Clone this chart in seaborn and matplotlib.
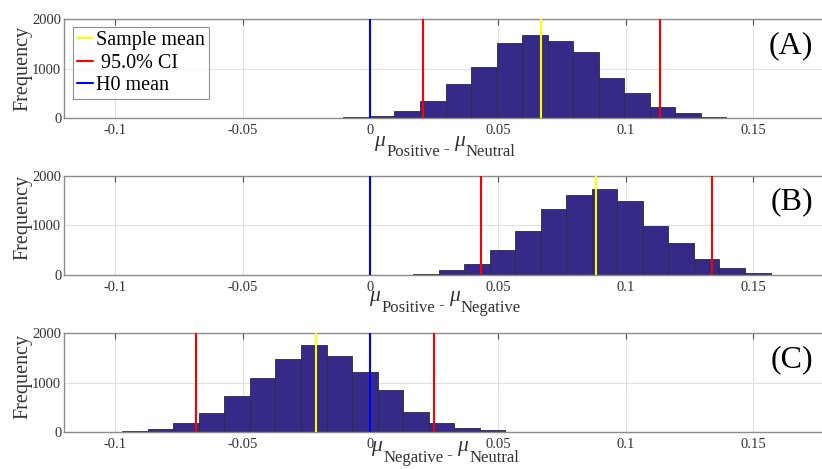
import numpy as np
import pandas as pd
import matplotlib
matplotlib.use("Agg")
import matplotlib.pyplot as plt
from matplotlib.transforms import IdentityTransform
import seaborn as sns

# Bootstrap distributions of differences between condition means
bin_width = 0.01

bin_start_a = -0.0306
counts_a = [3, 6, 18, 47, 140, 351, 682, 1041, 1527, 1682, 1568, 1331, 818,
            500, 230, 95, 27, 7]
mean_a = 0.0668
ci_a = [0.0205, 0.1135]

bin_start_b = -0.0033
counts_b = [3, 10, 33, 107, 221, 508, 896, 1331, 1619, 1726, 1485, 997, 642,
            334, 140, 54, 13, 3]
mean_b = 0.0885
ci_b = [0.0432, 0.1336]

bin_start_c = -0.1072
counts_c = [3, 20, 74, 188, 389, 738, 1087, 1477, 1765, 1544, 1221, 859, 416,
            195, 94, 40, 8, 3]
mean_c = -0.0215
ci_c = [-0.0682, 0.0249]

h0_mean = 0.0

panel_tags = ["(A)", "(B)", "(C)"]
# (minuend, subtrahend) condition names for each panel's x label
label_pairs = [("Positive", "Neutral"), ("Positive", "Negative"),
               ("Negative", "Neutral")]
x_ticks = [-0.1, -0.05, 0, 0.05, 0.1, 0.15]
x_tick_labels = ["-0.1", "-0.05", "0", "0.05", "0.1", "0.15"]
y_ticks = [0, 1000, 2000]
legend_labels = ["Sample mean", " 95.0% CI", "H0 mean"]

sns.set_style("white")
plt.rcParams["font.family"] = ["Liberation Serif", "DejaVu Serif"]

BAR_COLOR = "#352a87"
SPINE = "0.55"
TEXT = "0.2"
W_PX, H_PX = 822, 469

fig = plt.figure(figsize=(W_PX / 100, H_PX / 100), dpi=100)
renderer = fig.canvas.get_renderer()

left, width = 0.0779, 0.9319
bottoms = [0.7484, 0.4130, 0.0783]
heights = [0.2104, 0.2124, 0.2117]
ylabel_y = [0.5, 0.58, 0.56]
# distance (px) from the axis line down to the subscript baseline
label_drop = [38, 36.5, 29.5]

panels = [
    (bin_start_a, counts_a, mean_a, ci_a),
    (bin_start_b, counts_b, mean_b, ci_b),
    (bin_start_c, counts_c, mean_c, ci_c),
]


def mu_label(x_center, y_base, first, second):
    """Draw 'mu_first - mu_second' with TeX-like lowered subscripts."""
    parts = [
        ("\u03bc", 15.5, "italic", 10.5),
        (first, 12, "normal", 0),
        (" - ", 12, "normal", 3),
        ("\u03bc", 15.5, "italic", 10.5),
        (second, 12, "normal", 0),
    ]
    texts = []
    for s, size, style, dy in parts:
        t = fig.text(0, 0, s, fontsize=size, style=style, color=TEXT,
                     transform=IdentityTransform(), ha="left",
                     va="baseline")
        texts.append((t, dy))
    widths = [t.get_window_extent(renderer).width for t, _ in texts]
    gaps = [1.5, 0, 0, 1.0, 0]
    total = sum(widths) + sum(gaps[:-1])
    x = x_center - total / 2
    for (t, dy), w, g in zip(texts, widths, gaps):
        t.set_position((x, H_PX - y_base + dy))
        x += w + g


for i, (start, counts, mean, ci) in enumerate(panels):
    ax = fig.add_axes([left, bottoms[i], width, heights[i]])
    n = len(counts)
    edges = [float(start + bin_width * k) for k in range(n + 1)]
    centers = [(edges[k] + edges[k + 1]) / 2 for k in range(n)]
    df = pd.DataFrame({"diff": centers, "count": counts})
    sns.histplot(data=df, x="diff", weights="count", bins=edges, ax=ax,
                 color=BAR_COLOR, alpha=1.0, edgecolor="#2a2a3a",
                 linewidth=0.6, zorder=2)

    l_mean = ax.axvline(mean, color="#ffff00", lw=1.5, zorder=3)
    l_ci = ax.axvline(ci[0], color="#ff0000", lw=1.5, zorder=3)
    ax.axvline(ci[1], color="#ff0000", lw=1.5, zorder=3)
    l_h0 = ax.axvline(h0_mean, color="#0000ff", lw=1.5, zorder=3)

    ax.set_xlim(-0.12, 0.18)
    ax.set_ylim(0, 2000)
    ax.set_xticks(x_ticks)
    ax.set_xticklabels(x_tick_labels)
    ax.set_yticks(y_ticks)
    ax.grid(True, color="0.88", lw=0.8, zorder=0)
    ax.set_axisbelow(True)
    ax.tick_params(direction="in", length=4, width=0.8, color="0.3",
                   labelsize=10.5, labelcolor=TEXT, top=True, right=True)
    ax.tick_params(axis="x", pad=4)
    ax.tick_params(axis="y", pad=2)
    for s in ax.spines.values():
        s.set_color(SPINE)
        s.set_linewidth(1.0)

    ax.set_ylabel("Frequency", fontsize=14.5, color=TEXT)
    ax.yaxis.set_label_coords(-0.0415, ylabel_y[i])
    ax.set_xlabel("")

    axis_y_px = H_PX * (1 - bottoms[i])
    mu_label(445, axis_y_px + label_drop[i], *label_pairs[i])

    ax.text(0.978, 0.735, panel_tags[i], transform=ax.transAxes,
            ha="right", va="center", fontsize=23, color="black")

    if i == 0:
        leg = ax.legend([l_mean, l_ci, l_h0], legend_labels,
                        loc="upper left", bbox_to_anchor=(0.0115, 0.919),
                        borderaxespad=0, fontsize=14.5, frameon=True,
                        fancybox=False, handlelength=0.8, handletextpad=0.15,
                        borderpad=0.2, labelspacing=0.15)
        leg.get_frame().set_edgecolor("0.45")
        leg.get_frame().set_linewidth(0.8)
        for t in leg.get_texts():
            t.set_color("black")

fig.savefig("out.png", dpi=100)
